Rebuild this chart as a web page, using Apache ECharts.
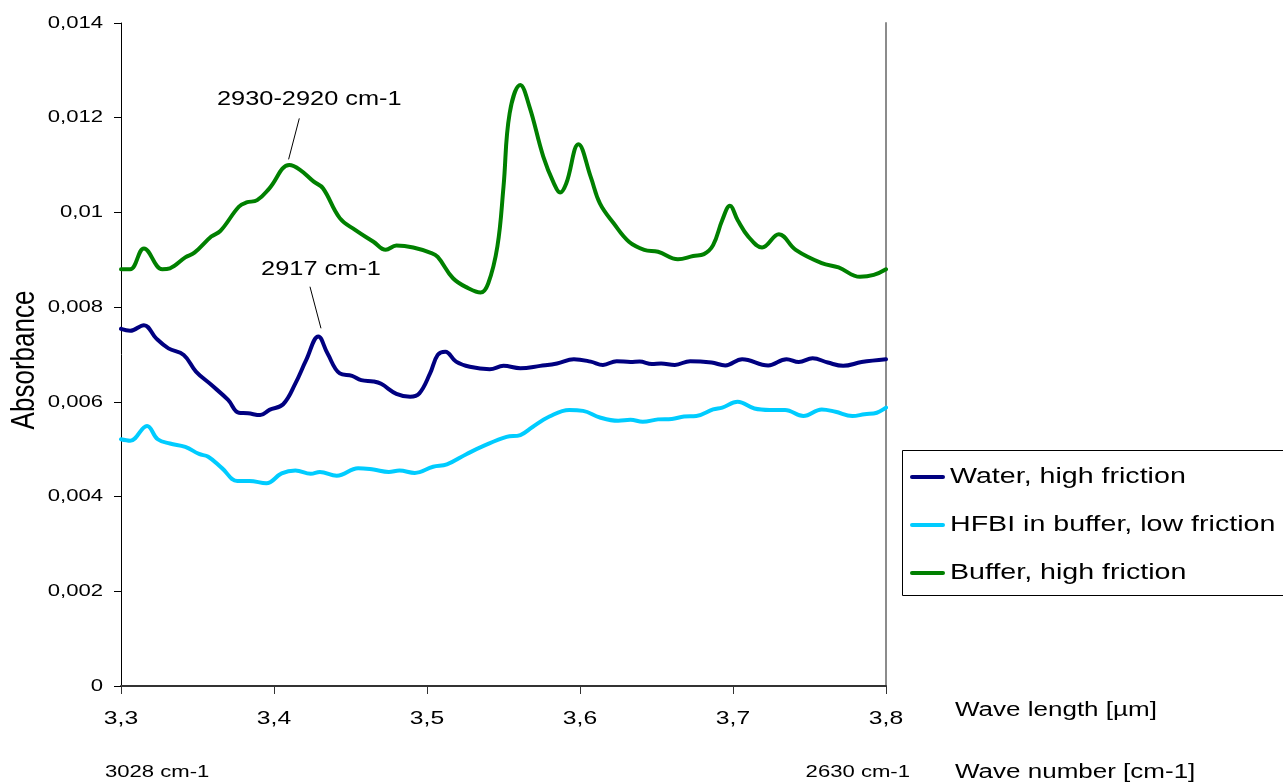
<!DOCTYPE html>
<html>
<head>
<meta charset="utf-8">
<script src="https://cdn.jsdelivr.net/npm/echarts@6/dist/echarts.min.js"></script>
<style>
  html, body { margin: 0; padding: 0; background: #ffffff; }
  #chart { width: 1283px; height: 783px; }
</style>
</head>
<body>
<div id="chart"></div>
<script>
// Absorbance spectra in the C-H stretching region (values in absorbance units x 1e-3)

const seriesNames = ['Water, high friction', 'HFBI in buffer, low friction', 'Buffer, high friction'];

const waterWl = [3.300,3.306,3.315,3.323,3.331,3.341,3.349,3.359,3.370,3.377,3.383,3.391,3.397,3.406,3.414,
  3.421,3.429,3.435,3.443,3.451,3.457,3.465,3.470,3.480,3.489,3.495,3.502,3.507,3.512,3.519,
  3.528,3.541,3.550,3.561,3.574,3.585,3.596,3.607,3.615,3.624,3.633,3.639,3.647,3.653,3.662,
  3.672,3.686,3.695,3.706,3.723,3.735,3.743,3.752,3.762,3.772,3.784,3.800];
const waterAbs = [7.54,7.50,7.62,7.34,7.13,6.99,6.64,6.36,6.04,5.77,5.76,5.72,5.83,5.95,6.39,
  6.88,7.38,7.02,6.60,6.55,6.46,6.43,6.38,6.17,6.11,6.18,6.60,6.99,7.06,6.85,
  6.74,6.69,6.76,6.71,6.76,6.81,6.90,6.85,6.78,6.86,6.84,6.85,6.80,6.81,6.78,
  6.86,6.83,6.77,6.90,6.77,6.90,6.84,6.92,6.83,6.76,6.84,6.90];

const hfbiWl = [3.300,3.306,3.317,3.324,3.332,3.342,3.351,3.357,3.366,3.376,3.384,3.395,3.405,3.414,3.424,
  3.430,3.441,3.455,3.465,3.475,3.482,3.492,3.504,3.513,3.526,3.537,3.552,3.561,3.569,3.580,
  3.593,3.602,3.613,3.625,3.633,3.641,3.651,3.660,3.668,3.676,3.687,3.693,3.703,3.714,3.724,
  3.734,3.746,3.758,3.767,3.778,3.786,3.794,3.800];
const hfbiAbs = [5.21,5.18,5.49,5.21,5.12,5.05,4.90,4.84,4.60,4.33,4.33,4.28,4.49,4.55,4.48,
  4.52,4.44,4.60,4.57,4.52,4.55,4.50,4.63,4.68,4.90,5.07,5.26,5.30,5.47,5.69,
  5.83,5.81,5.67,5.60,5.62,5.58,5.63,5.64,5.69,5.70,5.84,5.88,6.00,5.86,5.83,
  5.83,5.70,5.84,5.79,5.70,5.74,5.77,5.88];

const bufferWl = [3.300,3.306,3.315,3.327,3.332,3.342,3.348,3.359,3.365,3.377,3.382,3.389,3.397,3.410,3.417,
  3.426,3.432,3.443,3.453,3.465,3.473,3.480,3.491,3.502,3.507,3.517,3.527,3.535,3.540,3.546,
  3.550,3.554,3.561,3.567,3.576,3.583,3.587,3.591,3.599,3.607,3.613,3.622,3.632,3.642,3.651,
  3.664,3.674,3.681,3.687,3.693,3.698,3.703,3.710,3.719,3.730,3.741,3.758,3.769,3.783,3.792,3.800];
const bufferAbs = [8.80,8.80,9.24,8.80,8.82,9.05,9.15,9.49,9.61,10.12,10.21,10.26,10.51,11.00,10.90,
  10.65,10.51,9.88,9.63,9.38,9.21,9.30,9.26,9.15,9.06,8.61,8.40,8.31,8.50,9.28,
  10.54,12.09,12.69,12.23,11.18,10.61,10.42,10.61,11.44,10.75,10.19,9.77,9.38,9.21,9.17,
  9.01,9.08,9.12,9.31,9.84,10.14,9.84,9.49,9.26,9.54,9.21,8.93,8.84,8.64,8.68,8.80];

const xTicks = [3.3, 3.4, 3.5, 3.6, 3.7, 3.8];
const yTicks = [0, 0.002, 0.004, 0.006, 0.008, 0.01, 0.012, 0.014];

const xAxisTitle = 'Wave length [\u00b5m]';
const secondAxisTitle = 'Wave number [cm-1]';
const waveNumberEnds = ['3028 cm-1', '2630 cm-1'];
const yAxisTitle = 'Absorbance';

// peak annotations: label, series index, wavelength of the peak
const peakNotes = [
  { label: '2930-2920 cm-1', series: 2, wl: 3.410 },
  { label: '2917 cm-1', series: 0, wl: 3.429 }
];

const colors = ['#000080', '#00ccff', '#008000'];
const FONT = '"Liberation Sans", Arial, Helvetica, sans-serif';
const SX = 1.3; // horizontal text stretch

function pairs(wl, abs) {
  return wl.map((w, i) => [w, abs[i] / 1000]);
}
const seriesData = [pairs(waterWl, waterAbs), pairs(hfbiWl, hfbiAbs), pairs(bufferWl, bufferAbs)];

const grid = { left: 121, right: 397, top: 23, bottom: 97 };

const chart = echarts.init(document.getElementById('chart'), null, { renderer: 'canvas' });

chart.setOption({
  animation: false,
  backgroundColor: '#ffffff',
  grid: Object.assign({ containLabel: false }, grid),
  xAxis: {
    type: 'value', min: 3.3, max: 3.8, interval: 0.1,
    axisLine: { show: true, onZero: false, lineStyle: { color: '#333333', width: 2 } },
    axisTick: { show: true, inside: false, length: 8, lineStyle: { color: '#333333', width: 1 } },
    axisLabel: { show: false },
    splitLine: { show: false }
  },
  yAxis: [{
    type: 'value', min: 0, max: 0.014, interval: 0.002, position: 'left',
    axisLine: { show: true, lineStyle: { color: '#000000', width: 1 } },
    axisTick: { show: true, inside: false, length: 7, lineStyle: { color: '#000000', width: 1 } },
    axisLabel: { show: false },
    splitLine: { show: false }
  }, {
    type: 'value', min: 0, max: 0.014, interval: 0.002, position: 'right',
    axisLine: { show: true, lineStyle: { color: '#8c8c8c', width: 2 } },
    axisTick: { show: false }, axisLabel: { show: false }, splitLine: { show: false }
  }],
  series: seriesData.map((d, i) => ({
    name: seriesNames[i],
    type: 'line',
    data: d,
    yAxisIndex: 0,
    smooth: 0.4,
    showSymbol: false,
    symbol: 'none',
    lineStyle: { color: colors[i], width: 4, cap: 'round', join: 'round' },
    itemStyle: { color: colors[i] },
    z: 3 + i
  }))
});

function txt(x, y, text, size, align, extra) {
  return Object.assign({
    type: 'text', x: x, y: y, scaleX: SX, z: 100,
    style: {
      text: text, font: size + 'px ' + FONT, fill: '#000000',
      align: align, textAlign: align,
      verticalAlign: 'middle', textVerticalAlign: 'middle'
    }
  }, extra || {});
}

const fmt = v => String(Number(v.toFixed(3))).replace('.', ',');
const els = [];

// tick labels
yTicks.forEach(v => {
  const p = chart.convertToPixel({ gridIndex: 0 }, [3.3, v]);
  els.push(txt(p[0] - 18, p[1], fmt(v), 17, 'right'));
});
xTicks.forEach(v => {
  const p = chart.convertToPixel({ gridIndex: 0 }, [v, 0]);
  els.push(txt(p[0], p[1] + 33, fmt(v), 19, 'center'));
});

// axis titles
const x0 = chart.convertToPixel({ gridIndex: 0 }, [3.3, 0]);
const x1 = chart.convertToPixel({ gridIndex: 0 }, [3.8, 0]);
els.push(txt(955, x0[1] + 24, xAxisTitle, 20, 'left'));
els.push(txt(955, x0[1] + 86, secondAxisTitle, 20, 'left'));
els.push(txt(x0[0] - 16, x0[1] + 86, waveNumberEnds[0], 17, 'left'));
els.push(txt(x1[0] + 24, x0[1] + 86, waveNumberEnds[1], 17, 'right'));
els.push({
  type: 'text', x: 25, y: 360, rotation: Math.PI / 2, scaleY: SX, z: 100,
  style: {
    text: yAxisTitle, font: '26px ' + FONT, fill: '#000000',
    align: 'center', textAlign: 'center', verticalAlign: 'middle', textVerticalAlign: 'middle'
  }
});

// peak annotations with leader lines
const noteGeom = [
  { a: [-0.7, -5.7], b: [10, -46.7], t: [20, -65] },
  { a: [2.6, -8.2], b: [-8.4, -49.8], t: [2.6, -66.5] }
];
peakNotes.forEach((n, k) => {
  const d = seriesData[n.series];
  let best = d[0];
  d.forEach(pt => { if (Math.abs(pt[0] - n.wl) < Math.abs(best[0] - n.wl)) best = pt; });
  const p = chart.convertToPixel({ gridIndex: 0 }, best);
  const g = noteGeom[k];
  els.push({
    type: 'line', z: 90,
    shape: { x1: p[0] + g.a[0], y1: p[1] + g.a[1], x2: p[0] + g.b[0], y2: p[1] + g.b[1] },
    style: { stroke: '#000000', lineWidth: 1 }
  });
  els.push(txt(p[0] + g.t[0], p[1] + g.t[1], n.label, 19.5, 'center'));
});

// legend box
const lg = { left: 902, top: 450, width: 400, height: 145, rowY: [477, 525, 573] };
els.push({
  type: 'rect', z: 80,
  shape: { x: lg.left + 0.5, y: lg.top + 0.5, width: lg.width, height: lg.height },
  style: { fill: '#ffffff', stroke: '#000000', lineWidth: 1 }
});
seriesNames.forEach((name, i) => {
  els.push({
    type: 'line', z: 90,
    shape: { x1: 912, y1: lg.rowY[i], x2: 943, y2: lg.rowY[i] },
    style: { stroke: colors[i], lineWidth: 4, lineCap: 'round' }
  });
  els.push(txt(950, lg.rowY[i], name, 22, 'left'));
});

chart.setOption({ graphic: { elements: els } });
</script>
</body>
</html>
